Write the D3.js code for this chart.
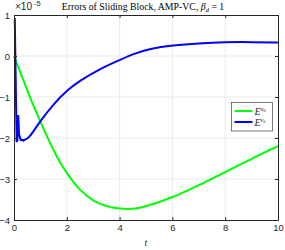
<!DOCTYPE html>
<html>
<head>
<meta charset="utf-8">
<script src="https://cdn.jsdelivr.net/npm/d3@7"></script>
<style>
  body { margin: 0; background: #fff; }
  svg { display: block; }
</style>
</head>
<body>
<svg id="chart" width="285" height="250"></svg>
<script>
// values are in units of 1e-5
var xTicks = [0, 2, 4, 6, 8, 10];
var yTicks = [1, 0, -1, -2, -3, -4];

var greenT = [0, 0.25, 0.5, 0.75, 1, 1.25, 1.5, 1.75, 2, 2.5, 3, 3.5, 4, 4.3, 4.6, 5, 5.5, 6, 6.5, 7, 7.5, 8, 8.5, 9, 9.5, 10];
var greenE = [0, -0.42, -0.83, -1.23, -1.6, -1.96, -2.3, -2.6, -2.85, -3.26, -3.52, -3.66, -3.72, -3.73, -3.72, -3.66, -3.56, -3.44, -3.3, -3.15, -2.99, -2.83, -2.67, -2.51, -2.35, -2.2];

var blueT = [0, 0.03, 0.1, 0.13, 0.16, 0.19, 0.25, 0.38, 0.6, 0.95, 1.5, 2, 2.5, 3.2, 4, 4.5, 5.15, 6, 7, 8, 9, 10];
var blueE = [0.9, 0.9, -2.1, -2.05, -1.44, -1.9, -2.04, -2.07, -1.98, -1.62, -1.17, -0.84, -0.6, -0.33, -0.1, 0.05, 0.18, 0.26, 0.31, 0.34, 0.34, 0.33];

var svg = d3.select('#chart'),
  margin = {top: 15, right: 7, bottom: 30, left: 14},
  width = 285 - margin.left - margin.right,
  height = 220 - margin.top;

var x = d3.scaleLinear().domain([0, 10]).range([0, width]);
var y = d3.scaleLinear().domain([-4, 1]).range([height, 0]);

var g = svg.append('g')
  .attr('transform', 'translate(' + margin.left + ',' + margin.top + ')');

// grid
g.selectAll('.vgrid').data(xTicks.slice(1, -1)).enter().append('line')
  .attr('x1', function(d) { return x(d); }).attr('x2', function(d) { return x(d); })
  .attr('y1', 0).attr('y2', height)
  .attr('stroke', '#ebebeb').attr('stroke-width', 1);
g.selectAll('.hgrid').data(yTicks.slice(1, -1)).enter().append('line')
  .attr('y1', function(d) { return y(d); }).attr('y2', function(d) { return y(d); })
  .attr('x1', 0).attr('x2', width)
  .attr('stroke', '#ebebeb').attr('stroke-width', 1);

var line = d3.line()
  .x(function(d) { return x(d[0]); })
  .y(function(d) { return y(d[1]); })
  .curve(d3.curveMonotoneX);

var lineSharp = d3.line()
  .x(function(d) { return x(d[0]); })
  .y(function(d) { return y(d[1]); });

g.append('path')
  .datum(d3.zip(greenT, greenE))
  .attr('fill', 'none').attr('stroke', '#00ff00').attr('stroke-width', 2)
  .attr('d', line);

// blue: sharp early part, smooth afterwards
var blueData = d3.zip(blueT, blueE);
g.append('path')
  .datum(blueData.slice(0, 8))
  .attr('fill', 'none').attr('stroke', '#0000ff').attr('stroke-width', 2)
  .attr('d', lineSharp);
g.append('path')
  .datum(blueData.slice(6))
  .attr('fill', 'none').attr('stroke', '#0000ff').attr('stroke-width', 2)
  .attr('d', d3.line().x(function(d) { return x(d[0]); }).y(function(d) { return y(d[1]); }).curve(d3.curveBasis));

// axes
var fmt = d3.format('d');
var xAxis = g.append('g')
  .attr('transform', 'translate(0,' + height + ')')
  .call(d3.axisBottom(x).tickValues(xTicks).tickFormat(fmt).tickSizeInner(-3).tickSizeOuter(0).tickPadding(4));
var yAxis = g.append('g')
  .call(d3.axisLeft(y).tickValues(yTicks).tickFormat(fmt).tickSizeInner(-3).tickSizeOuter(0).tickPadding(4));
var xAxisTop = g.append('g')
  .call(d3.axisTop(x).tickValues(xTicks).tickSizeInner(-3).tickSizeOuter(0).tickFormat(''));
var yAxisRight = g.append('g')
  .attr('transform', 'translate(' + width + ',0)')
  .call(d3.axisRight(y).tickValues(yTicks).tickSizeInner(-3).tickSizeOuter(0).tickFormat(''));

[xAxis, yAxis, xAxisTop, yAxisRight].forEach(function(a) {
  a.select('.domain').attr('stroke', '#262626').attr('stroke-width', 1);
  a.selectAll('.tick line').attr('stroke', '#262626');
  a.selectAll('.tick text').attr('fill', '#262626')
    .attr('font-family', 'Liberation Sans, Arial, sans-serif').attr('font-size', 9.5);
});

// exponent
var ex = svg.append('text')
  .attr('x', 15).attr('y', 10)
  .attr('font-family', 'Liberation Sans, Arial, sans-serif')
  .attr('font-size', 10).attr('fill', '#262626');
ex.append('tspan').text('\u00d710');
ex.append('tspan').attr('dy', -4).attr('font-size', 7.5).text(' -5');

// title
var title = svg.append('text')
  .attr('x', 143).attr('y', 10)
  .attr('text-anchor', 'middle')
  .attr('font-family', 'Liberation Serif, Times New Roman, serif')
  .attr('font-size', 9.8).attr('fill', '#000');
title.append('tspan').text('Errors of Sliding Block, AMP-VC, ');
title.append('tspan').attr('font-style', 'italic').text('\u03b2');
title.append('tspan').attr('font-style', 'italic').attr('font-size', 6.5).attr('dy', 2).text('d');
title.append('tspan').attr('dy', -2).text(' = 1');

// x label
svg.append('text')
  .attr('x', margin.left + width / 2).attr('y', 246)
  .attr('text-anchor', 'middle')
  .attr('font-family', 'Liberation Serif, Times New Roman, serif')
  .attr('font-style', 'italic').attr('font-size', 10).attr('fill', '#262626')
  .text('t');

// legend
var legendNames = ['u', 'v'];
var legendColors = ['#00ff00', '#0000ff'];
var lg = svg.append('g').attr('transform', 'translate(231.5,102.5)');
lg.append('rect').attr('width', 41).attr('height', 28.5)
  .attr('fill', '#fff').attr('stroke', '#262626').attr('stroke-width', 0.6);
legendNames.forEach(function(n, i) {
  var yy = 8.5 + i * 11;
  lg.append('line').attr('x1', 3).attr('x2', 21).attr('y1', yy).attr('y2', yy)
    .attr('stroke', legendColors[i]).attr('stroke-width', 2);
  var t = lg.append('text').attr('x', 23).attr('y', yy + 3.5)
    .attr('font-family', 'Liberation Serif, Times New Roman, serif')
    .attr('font-style', 'italic').attr('font-size', 10).attr('fill', '#262626');
  t.append('tspan').text('E');
  t.append('tspan').attr('dy', -4).attr('font-size', 6).text(n);
  t.append('tspan').attr('dy', 1.5).attr('font-size', 4.5).text('h');
});
</script>
</body>
</html>
